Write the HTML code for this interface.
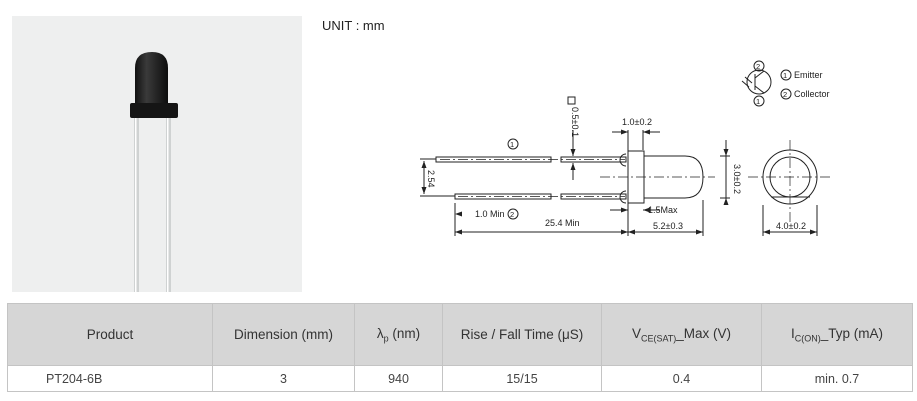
<!DOCTYPE html>
<html><head><style>
body{margin:0;width:917px;height:401px;background:#fff;font-family:"Liberation Sans",sans-serif;position:relative;overflow:hidden}
.photo{position:absolute;left:12px;top:16px;width:290px;height:276px;background:#eeefef}
table{position:absolute;left:7px;top:303px;border-collapse:collapse;width:906px;font-size:13px;color:#333;table-layout:fixed}
td{border:1px solid #c4c4c4;text-align:center;padding:0}
tr.h td{background:#d6d6d6;height:61px;font-size:13.5px}
tr.d td{height:25px;font-size:12.5px;color:#444}
sub{font-size:9px}
</style></head><body>
<div class="photo">
<svg width="290" height="276">
<defs><linearGradient id="g" x1="0" x2="1"><stop offset="0" stop-color="#111"/><stop offset="0.35" stop-color="#3a3a3a"/><stop offset="1" stop-color="#0d0d0d"/></linearGradient></defs>
<rect x="122" y="100" width="5" height="176" fill="#cfd2d2"/><rect x="123" y="100" width="1.5" height="176" fill="#fff"/>
<rect x="154" y="100" width="5" height="176" fill="#cfd2d2"/><rect x="155" y="100" width="1.5" height="176" fill="#fff"/>
<path d="M123 88 L123 52 Q123 36 140 36 Q156 36 156 52 L156 88 Z" fill="url(#g)"/>
<rect x="118" y="87" width="48" height="15" rx="2" fill="#151515"/>
</svg></div>
<div style="position:absolute;left:322px;top:18px;font-size:13px;color:#222">UNIT : mm</div>
<svg style="position:absolute;left:0;top:0" width="917" height="300" font-family="Liberation Sans Narrow,Liberation Sans,sans-serif" font-size="9" fill="#222">
<g stroke="#222" stroke-width="1" fill="none">
<rect x="436" y="157" width="115" height="5" fill="#fff"/><rect x="561" y="157" width="65" height="5" fill="#fff"/>
<rect x="455" y="194" width="96" height="5" fill="#fff"/><rect x="561" y="194" width="65" height="5" fill="#fff"/>
<path d="M626 154 a4 4 0 0 0 0 12 M626 191 a4 4 0 0 0 0 12"/>
<rect x="628" y="151" width="16" height="52" fill="#fff"/>
<path d="M644 156 L685 156 Q703 156 703 177 Q703 198 685 198 L644 198"/>
<circle cx="790" cy="177" r="27"/><circle cx="790" cy="177" r="20"/>
<path d="M771 197 L810 197"/>
<g stroke-dasharray="10,3,2,3" stroke-width="0.7"><path d="M440 159.5 H625 M458 196.5 H625 M600 177 H715 M748 177 H832 M790 140 V222"/></g>
<path d="M420 159 H436 M420 196 H455 M424 161 V194 M455 203 V236 M628 130 V236 M643 130 V150 M703 200 V236 M455 232 H703 M628 132 H612 M643 132 H660 M720 156 H730 M720 198 H730 M726 140 V200 M763 205 V236 M817 205 V236 M763 232 H817 M573 130 V156 M573 163 V180 M610 210 H628 M643 210 H660"/>
<circle cx="759" cy="82" r="12"/>
<path d="M755 74 V90 M755 78 L764 71 M755 86 L764 93 M745 77 L752 83 M742 81 L749 87"/>
<circle cx="759" cy="66" r="5"/><circle cx="759" cy="101" r="5"/><circle cx="786" cy="75" r="5"/><circle cx="786" cy="94" r="5"/>
<circle cx="513" cy="144" r="5"/><circle cx="513" cy="214" r="5"/>
<rect x="568" y="97" width="7" height="7"/>
</g>
<g fill="#222">
<path d="M455 232 l7 -2.5 v5z M703 232 l-7 -2.5 v5z M628 232 l-7 -2.5 v5z M628 232 l7 -2.5 v5z M763 232 l7 -2.5 v5z M817 232 l-7 -2.5 v5z M628 132 l-7 -2.5 v5z M643 132 l7 -2.5 v5z M628 210 l-7 -2.5 v5z M643 210 l7 -2.5 v5z M726 156 l-2.5 -7 h5z M726 198 l-2.5 7 h5z M573 156 l-2.5 -7 h5z M573 163 l-2.5 7 h5z M424 161 l-2.5 7 h5z M424 194 l-2.5 -7 h5z M455 214 l7 -2.5 v5z"/>
</g>
<g font-size="7.5"><text x="756" y="69">2</text><text x="756" y="104">1</text><text x="783" y="78">1</text><text x="783" y="97">2</text><text x="510" y="147">1</text><text x="510" y="217">2</text></g>
<text x="794" y="78">Emitter</text><text x="794" y="97">Collector</text>
<text x="622" y="125">1.0±0.2</text>
<text x="648" y="213">1.5Max</text>
<text x="475" y="217">1.0 Min</text>
<text x="545" y="226">25.4 Min</text>
<text x="653" y="229">5.2±0.3</text>
<text x="776" y="229">4.0±0.2</text>
<text transform="translate(734,164) rotate(90)">3.0±0.2</text>
<text transform="translate(428,170) rotate(90)">2.54</text>
<text transform="translate(572,107) rotate(90)">0.5±0.1</text>
</svg>
<table>
<tr class="h"><td style="width:204px">Product</td><td style="width:141px">Dimension (mm)</td><td style="width:87px">λ<sub>p</sub> (nm)</td><td style="width:158px">Rise / Fall Time (μS)</td><td style="width:159px">V<sub>CE(SAT)</sub>_Max (V)</td><td>I<sub>C(ON)</sub>_Typ (mA)</td></tr>
<tr class="d"><td style="text-align:left;padding-left:38px">PT204-6B</td><td>3</td><td>940</td><td>15/15</td><td>0.4</td><td>min. 0.7</td></tr>
</table>
</body></html>
